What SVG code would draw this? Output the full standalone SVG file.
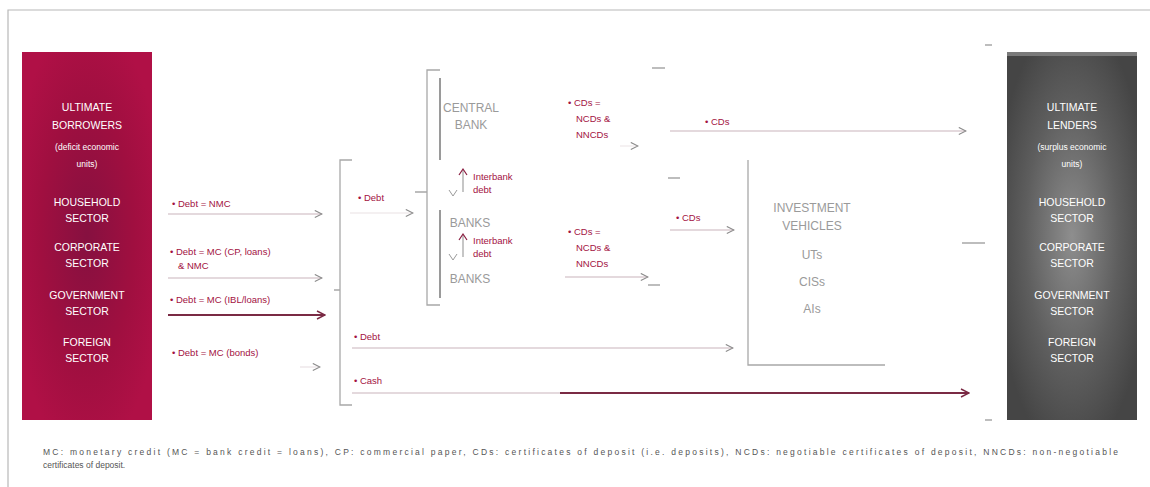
<svg xmlns="http://www.w3.org/2000/svg" width="1150" height="487" viewBox="0 0 1150 487">
<defs>
  <radialGradient id="gBorrow" cx="50%" cy="50%" r="60%">
    <stop offset="0" stop-color="#861040"/>
    <stop offset="0.6" stop-color="#a00f40"/>
    <stop offset="1" stop-color="#b01046"/>
  </radialGradient>
  <radialGradient id="gLend" cx="50%" cy="50%" r="60%">
    <stop offset="0" stop-color="#8e8e8e"/>
    <stop offset="0.6" stop-color="#5e5e5e"/>
    <stop offset="1" stop-color="#454545"/>
  </radialGradient>
  <marker id="ah" viewBox="0 0 10 10" refX="9" refY="5" markerWidth="9" markerHeight="9" orient="auto" markerUnits="userSpaceOnUse">
    <path d="M1,1 L9,5 L1,9" fill="none" stroke="#8a8a8a" stroke-width="1.2"/>
  </marker>
  <marker id="ahd" viewBox="0 0 10 10" refX="9" refY="5" markerWidth="10" markerHeight="10" orient="auto" markerUnits="userSpaceOnUse">
    <path d="M1,1 L9,5 L1,9" fill="none" stroke="#7a2a44" stroke-width="1.4"/>
  </marker>
</defs>
<style>
  .box { font-family: "Liberation Sans", Arial, sans-serif; font-size: 10.5px; fill: #ffffff; text-anchor: middle; }
  .sub { font-size: 8.5px; }
  .lbl { font-family: "Liberation Sans", Arial, sans-serif; font-size: 9.5px; fill: #a3123f; }
  .inst { font-family: "Liberation Sans", Arial, sans-serif; font-size: 12px; fill: #9a9a9a; text-anchor: middle; }
  .flow { fill: none; stroke: #c9b3bb; stroke-width: 1.2; }
  .flowd { fill: none; stroke: #7a2a44; stroke-width: 1.8; }
  .brk { fill: none; stroke: #a8a8a8; stroke-width: 1.3; }
  .bar { fill: none; stroke: #9a9a9a; stroke-width: 2; }
  .note { font-family: "Liberation Sans", Arial, sans-serif; font-size: 8.5px; fill: #555555; }
</style>
<rect x="0" y="0" width="1150" height="487" fill="#ffffff"/>
<path d="M8,487 L8,10 L1150,10" fill="none" stroke="#b8b8b8" stroke-width="1.2"/>

<g id="ultimate-borrowers">
  <rect x="22" y="52" width="130" height="368" fill="url(#gBorrow)"/>
  <text class="box" x="87" y="111">ULTIMATE</text>
  <text class="box" x="87" y="129">BORROWERS</text>
  <text class="box sub" x="87" y="150">(deficit economic</text>
  <text class="box sub" x="87" y="167">units)</text>
  <text class="box" x="87" y="206">HOUSEHOLD</text>
  <text class="box" x="87" y="222">SECTOR</text>
  <text class="box" x="87" y="251">CORPORATE</text>
  <text class="box" x="87" y="267">SECTOR</text>
  <text class="box" x="87" y="299">GOVERNMENT</text>
  <text class="box" x="87" y="315">SECTOR</text>
  <text class="box" x="87" y="346">FOREIGN</text>
  <text class="box" x="87" y="362">SECTOR</text>
</g>

<g id="ultimate-lenders">
  <rect x="1007" y="52" width="130" height="368" fill="url(#gLend)"/>
  <rect x="1007" y="52" width="130" height="4" fill="#7a7a7a"/>
  <text class="box" x="1072" y="111">ULTIMATE</text>
  <text class="box" x="1072" y="129">LENDERS</text>
  <text class="box sub" x="1072" y="150">(surplus economic</text>
  <text class="box sub" x="1072" y="167">units)</text>
  <text class="box" x="1072" y="206">HOUSEHOLD</text>
  <text class="box" x="1072" y="222">SECTOR</text>
  <text class="box" x="1072" y="251">CORPORATE</text>
  <text class="box" x="1072" y="267">SECTOR</text>
  <text class="box" x="1072" y="299">GOVERNMENT</text>
  <text class="box" x="1072" y="315">SECTOR</text>
  <text class="box" x="1072" y="346">FOREIGN</text>
  <text class="box" x="1072" y="362">SECTOR</text>
</g>

<g id="central-bank">
  <line class="bar" x1="440" y1="78" x2="440" y2="160"/>
  <text class="inst" x="471" y="112">CENTRAL</text>
  <text class="inst" x="471" y="129">BANK</text>
</g>

<g id="banks">
  <line class="bar" x1="440" y1="210" x2="440" y2="298"/>
  <text class="inst" x="470" y="227">BANKS</text>
  <text class="inst" x="470" y="283">BANKS</text>
</g>

<g id="investment-vehicles">
  <path class="brk" d="M748,160 L748,365 L885,365"/>
  <text class="inst" x="812" y="212">INVESTMENT</text>
  <text class="inst" x="812" y="230">VEHICLES</text>
  <text class="inst" x="812" y="259">UTs</text>
  <text class="inst" x="812" y="286">CISs</text>
  <text class="inst" x="812" y="313">AIs</text>
</g>

<g id="connectors">
  <path class="brk" d="M352,160 L340,160 L340,405 L352,405 M340,290 L334,290"/>
  <path class="brk" d="M440,70 L427,70 L427,305 L440,305 M427,192 L415,192"/>
  <path class="brk" d="M992,45 L985,45 M985,243 L962,243 M992,420 L985,420"/>
  <path class="brk" d="M652,68 L665,68 M668,178 L680,178 M648,285 L660,285"/>

  <text class="lbl" x="172" y="207">• Debt = NMC</text>
  <line class="flow" x1="168" y1="214" x2="322" y2="214" marker-end="url(#ah)"/>
  <text class="lbl" x="170" y="255">• Debt = MC (CP, loans)</text>
  <text class="lbl" x="178" y="269">&amp; NMC</text>
  <line class="flow" x1="168" y1="278" x2="322" y2="278" marker-end="url(#ah)"/>
  <text class="lbl" x="170" y="303">• Debt = MC (IBL/loans)</text>
  <line class="flowd" x1="168" y1="315" x2="325" y2="315" marker-end="url(#ahd)"/>
  <text class="lbl" x="172" y="356">• Debt = MC (bonds)</text>
  <line class="flow" x1="300" y1="367" x2="320" y2="367" stroke-opacity="0.4" marker-end="url(#ah)"/>

  <text class="lbl" x="358" y="201">• Debt</text>
  <line class="flow" x1="350" y1="213" x2="413" y2="213" stroke-opacity="0.4" marker-end="url(#ah)"/>

  <line class="brk" x1="463" y1="192" x2="463" y2="170" stroke="#8a1d40"/>
  <path d="M459,175 L463,169 L467,175" fill="none" stroke="#8a1d40" stroke-width="1.2"/>
  <path d="M449,190 L453,196 L457,190" fill="none" stroke="#9a9a9a" stroke-width="1"/>
  <text class="lbl" x="473" y="180">Interbank</text>
  <text class="lbl" x="473" y="193">debt</text>
  <line class="brk" x1="463" y1="257" x2="463" y2="235" stroke="#8a1d40"/>
  <path d="M459,240 L463,234 L467,240" fill="none" stroke="#8a1d40" stroke-width="1.2"/>
  <path d="M449,254 L453,260 L457,254" fill="none" stroke="#9a9a9a" stroke-width="1"/>
  <text class="lbl" x="473" y="244">Interbank</text>
  <text class="lbl" x="473" y="257">debt</text>

  <text class="lbl" x="568" y="106">• CDs =</text>
  <text class="lbl" x="576" y="122">NCDs &amp;</text>
  <text class="lbl" x="576" y="138">NNCDs</text>
  <line class="flow" x1="620" y1="146" x2="638" y2="146" stroke-opacity="0.3" marker-end="url(#ah)"/>

  <text class="lbl" x="568" y="235">• CDs =</text>
  <text class="lbl" x="576" y="251">NCDs &amp;</text>
  <text class="lbl" x="576" y="267">NNCDs</text>
  <line class="flow" x1="565" y1="277" x2="648" y2="277" marker-end="url(#ah)"/>

  <text class="lbl" x="705" y="125">• CDs</text>
  <line class="flow" x1="670" y1="131" x2="966" y2="131" marker-end="url(#ah)"/>

  <text class="lbl" x="676" y="221">• CDs</text>
  <line class="flow" x1="670" y1="230" x2="734" y2="230" marker-end="url(#ah)"/>

  <text class="lbl" x="354" y="340">• Debt</text>
  <line class="flow" x1="352" y1="348" x2="733" y2="348" marker-end="url(#ah)"/>

  <text class="lbl" x="354" y="384">• Cash</text>
  <line class="flow" x1="352" y1="393" x2="560" y2="393"/>
  <line class="flowd" x1="560" y1="393" x2="969" y2="393" marker-end="url(#ahd)"/>
</g>

<g id="footnote">
  <text class="note" x="43" y="455" textLength="1075" lengthAdjust="spacing">MC: monetary credit (MC = bank credit = loans), CP: commercial paper, CDs: certificates of deposit (i.e. deposits), NCDs: negotiable certificates of deposit, NNCDs: non-negotiable</text>
  <text class="note" x="43" y="468">certificates of deposit.</text>
</g>
</svg>
